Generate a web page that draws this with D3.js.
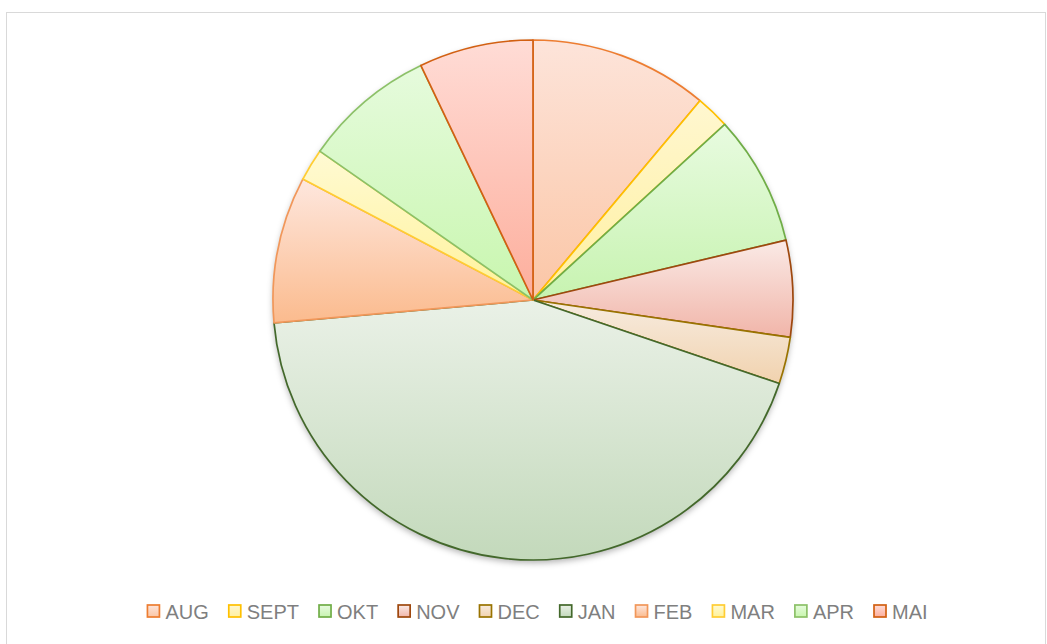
<!DOCTYPE html>
<html>
<head>
<meta charset="utf-8">
<script src="https://cdn.jsdelivr.net/npm/d3@7"></script>
<style>
  body { margin: 0; background: #fff; }
  text { font-family: "Liberation Sans", Arial, sans-serif; }
</style>
</head>
<body>
<script>
// months and their share of the pie (in %)
var months = ["AUG", "SEPT", "OKT", "NOV", "DEC", "JAN", "FEB", "MAR", "APR", "MAI"];
var values = [11.1, 2.1, 8.1, 6.0, 2.9, 43.4, 9.1, 2.0, 8.2, 7.1];

var strokes = ["#ED7D31", "#FFC000", "#70AD47", "#9E480E", "#997300", "#43682B", "#F1975A", "#FFCD33", "#8CC168", "#D26012"];
var topFill = ["#fde4da", "#fff7d0", "#e8fbe0", "#faeae6", "#f7ece0", "#eaf1e7", "#fee7de", "#fffad3", "#e6fbdd", "#ffdcd6"];
var botFill = ["#fbc6a6", "#fff0a0", "#c7f3b0", "#f1b5a9", "#f1d2ae", "#c3d9bb", "#fbbb8e", "#fff29a", "#c8f6ae", "#fdae9c"];

var W = 1047, H = 644;
var cx = 533, cy = 300, r = 260;

var svg = d3.select("body").append("svg")
        .attr("width", W)
        .attr("height", H);

// chart border (bottom runs past the window)
svg.append("rect")
        .attr("x", 6.5).attr("y", 12.5)
        .attr("width", 1039).attr("height", 700)
        .attr("fill", "#fff")
        .attr("stroke", "#d9d9d9")
        .attr("stroke-width", 1);

var defs = svg.append("defs");

var shadow = defs.append("filter").attr("id", "shadow")
        .attr("x", "-10%").attr("y", "-10%").attr("width", "120%").attr("height", "125%");
shadow.append("feDropShadow")
        .attr("dx", 0).attr("dy", 3).attr("stdDeviation", 3)
        .attr("flood-color", "#000").attr("flood-opacity", 0.3);

months.forEach(function(m, i) {
  var g = defs.append("linearGradient").attr("id", "grad" + i)
          .attr("x1", 0).attr("y1", 0).attr("x2", 0).attr("y2", 1);
  g.append("stop").attr("offset", "0%").attr("stop-color", topFill[i]);
  g.append("stop").attr("offset", "100%").attr("stop-color", botFill[i]);
});

var pie = d3.pie().sort(null).value(function(d) { return d; });
var arc = d3.arc().innerRadius(0).outerRadius(r);

var gPie = svg.append("g")
        .attr("transform", "translate(" + cx + "," + cy + ")");

gPie.append("circle").attr("r", r).attr("fill", "#fff").attr("filter", "url(#shadow)");

gPie.selectAll("path.slice")
        .data(pie(values))
        .enter().append("path")
        .attr("class", "slice")
        .attr("d", arc)
        .attr("fill", function(d, i) { return "url(#grad" + i + ")"; })
        .attr("stroke", function(d, i) { return strokes[i]; })
        .attr("stroke-width", 1.7)
        .attr("stroke-linejoin", "round");

// legend
var legend = svg.append("g").attr("class", "legend");
var x = 0;
months.forEach(function(m, i) {
  var item = legend.append("g").attr("transform", "translate(" + x + ",0)");
  item.append("rect")
          .attr("x", 1).attr("y", 605)
          .attr("width", 12).attr("height", 12)
          .attr("fill", "url(#grad" + i + ")")
          .attr("stroke", strokes[i])
          .attr("stroke-width", 1.7);
  var t = item.append("text")
          .attr("x", 19).attr("y", 619)
          .attr("fill", "#7f7f7f")
          .style("font-size", "20px")
          .text(m);
  x += 19 + t.node().getComputedTextLength() + 19;
});
var total = x - 19;
legend.attr("transform", "translate(" + (537 - total / 2) + ",0)");
</script>
</body>
</html>
